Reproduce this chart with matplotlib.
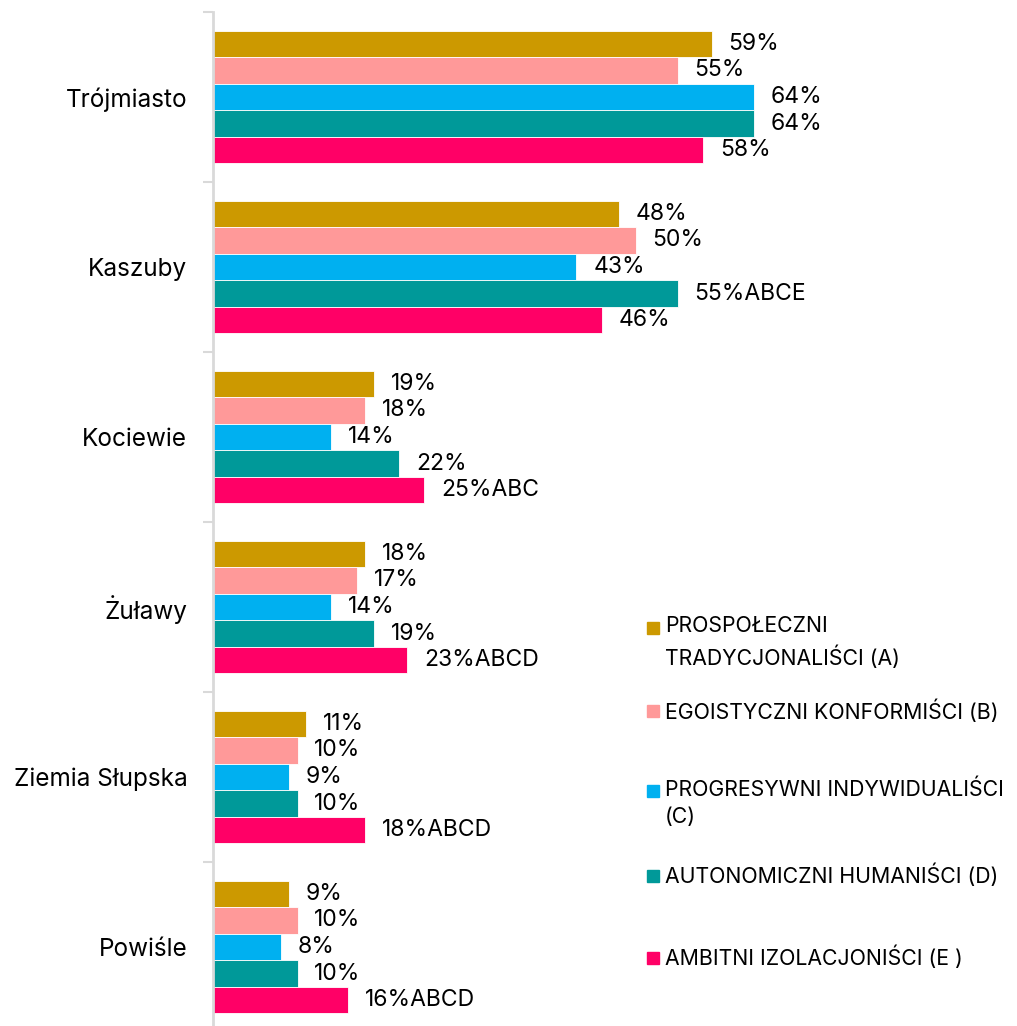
import matplotlib.pyplot as plt
import numpy as np
from matplotlib.patches import Rectangle

plt.rcParams['font.family'] = ['Inter', 'DejaVu Sans']

regions = ["Trójmiasto", "Kaszuby", "Kociewie", "Żuławy", "Ziemia Słupska", "Powiśle"]
series = ["PROSPOŁECZNI\nTRADYCJONALIŚCI (A)", "EGOISTYCZNI KONFORMIŚCI (B)",
          "PROGRESYWNI INDYWIDUALIŚCI\n(C)", "AUTONOMICZNI HUMANIŚCI (D)",
          "AMBITNI IZOLACJONIŚCI (E )"]
colors = ["#CC9900", "#FF9999", "#00B0F0", "#009999", "#FF0066"]

val_a = [59, 48, 19, 18, 11, 9]
val_b = [55, 50, 18, 17, 10, 10]
val_c = [64, 43, 14, 14, 9, 8]
val_d = [64, 55, 22, 19, 10, 10]
val_e = [58, 46, 25, 23, 18, 16]

suf_a = ["", "", "", "", "", ""]
suf_b = ["", "", "", "", "", ""]
suf_c = ["", "", "", "", "", ""]
suf_d = ["", "ABCE", "", "", "", ""]
suf_e = ["", "", "ABC", "ABCD", "ABCD", "ABCD"]

values = [val_a, val_b, val_c, val_d, val_e]
suffixes = [suf_a, suf_b, suf_c, suf_d, suf_e]

W, H = 1017, 1026
fig = plt.figure(figsize=(W / 100, H / 100), dpi=100)
ax = fig.add_axes([213 / W, (H - 12 - 1020) / H, (W - 213) / W, 1020 / H])

y = np.arange(len(regions))
h = 0.156
for i in range(5):
    pos = y + (i - 2) * h
    ax.barh(pos, values[i], height=h, color=colors[i], edgecolor="white", linewidth=0.6)
    for p, v, s in zip(pos, values[i], suffixes[i]):
        ax.text(v + 2.0, p, f"{v}%{s}", va="center", ha="left", fontsize=16.5, color="#000000")

ax.set_xlim(0, (W - 213) / 8.45)
ax.set_ylim(len(regions) - 0.5, -0.5)
ax.set_yticks(y)
ax.set_yticklabels(regions, fontsize=17.5, color="#000000")
ax.tick_params(axis="y", which="major", length=0, pad=18.5)
ax.set_yticks(np.arange(len(regions) + 1) - 0.5, minor=True)
ax.tick_params(axis="y", which="minor", length=7, width=1.5, color="#d9d9d9")
ax.set_xticks([])
for s in ["top", "right", "bottom"]:
    ax.spines[s].set_visible(False)
ax.spines["left"].set_color("#d9d9d9")
ax.spines["left"].set_linewidth(2)

# legend
leg_y = [628, 711, 791, 876, 958]
for lbl, c, ly in zip(series, colors, leg_y):
    fig.add_artist(Rectangle(((647) / W, 1 - (ly + 6) / H), 12 / W, 12 / H,
                             transform=fig.transFigure, color=c))
    fig.text(665 / W, 1 - (ly - 12) / H, lbl, ha="left", va="top", fontsize=15.3,
             color="#000000", linespacing=1.5)

fig.savefig("out.png", dpi=100)
